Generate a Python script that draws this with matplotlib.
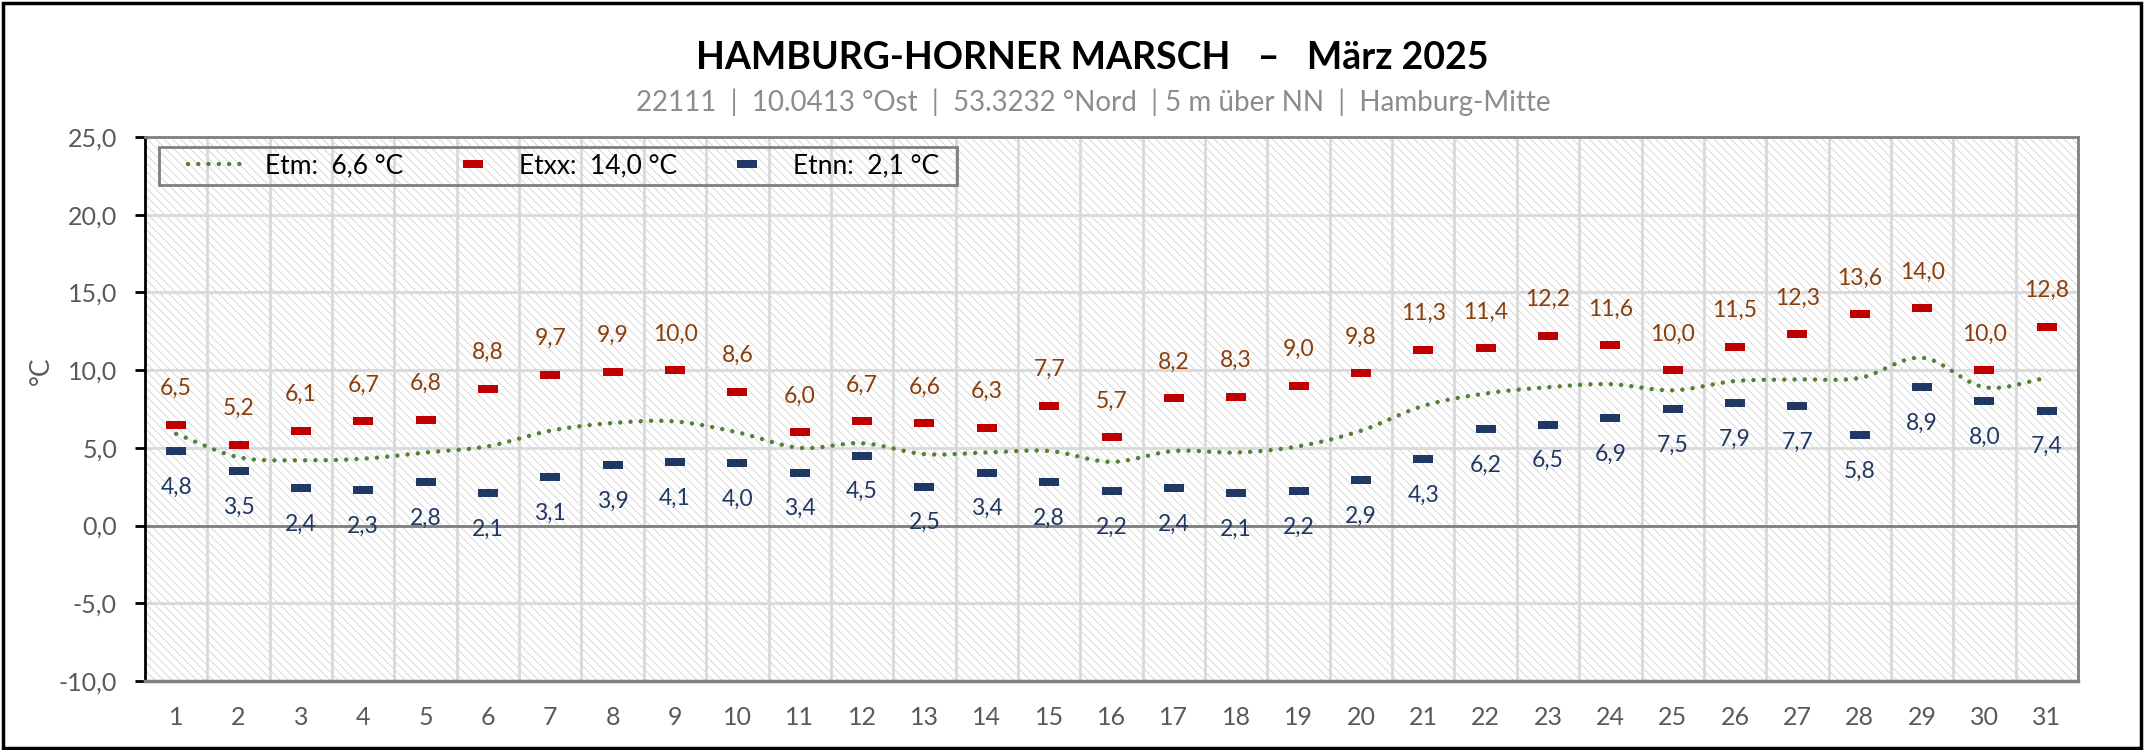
import numpy as np
import matplotlib.pyplot as plt
from matplotlib.lines import Line2D
from matplotlib.patches import Rectangle
from matplotlib.path import Path

plt.rcParams['font.family'] = ['Lato', 'DejaVu Sans']
plt.rcParams['hatch.linewidth'] = 0.6

days = list(range(1, 32))
etm = [5.9, 4.4, 4.2, 4.3, 4.7, 5.1, 6.1, 6.6, 6.7, 6.0, 5.0, 5.3, 4.6, 4.7, 4.8, 4.1,
       4.8, 4.7, 5.1, 6.1, 7.7, 8.5, 8.9, 9.1, 8.7, 9.3, 9.4, 9.5, 10.8, 8.9, 9.5]
etxx = [6.5, 5.2, 6.1, 6.7, 6.8, 8.8, 9.7, 9.9, 10.0, 8.6, 6.0, 6.7, 6.6, 6.3, 7.7, 5.7,
        8.2, 8.3, 9.0, 9.8, 11.3, 11.4, 12.2, 11.6, 10.0, 11.5, 12.3, 13.6, 14.0, 10.0, 12.8]
etnn = [4.8, 3.5, 2.4, 2.3, 2.8, 2.1, 3.1, 3.9, 4.1, 4.0, 3.4, 4.5, 2.5, 3.4, 2.8, 2.2,
        2.4, 2.1, 2.2, 2.9, 4.3, 6.2, 6.5, 6.9, 7.5, 7.9, 7.7, 5.8, 8.9, 8.0, 7.4]
yticks = [-10, -5, 0, 5, 10, 15, 20, 25]

title = "HAMBURG-HORNER MARSCH   \u2013   M\u00e4rz 2025"
subtitle = "22111  |  10.0413 \u00b0Ost  |  53.3232 \u00b0Nord  | 5 m \u00fcber NN  |  Hamburg-Mitte"

c_green = '#548235'
c_red = '#c00000'
c_navy = '#1f3864'
c_brown = '#8a3e0c'
c_tick = '#595959'

W, H = 2148, 750


def fmt(v):
    return f"{v:.1f}".replace('.', ',')


def smooth(x, y, n=20):
    # catmull-rom like excel "smoothed line"
    x = np.asarray(x, float)
    y = np.asarray(y, float)
    px = np.concatenate([[2 * x[0] - x[1]], x, [2 * x[-1] - x[-2]]])
    py = np.concatenate([[2 * y[0] - y[1]], y, [2 * y[-1] - y[-2]]])
    xs, ys = [], []
    t = np.linspace(0, 1, n, endpoint=False)
    for i in range(1, len(px) - 2):
        p0, p1, p2, p3 = py[i - 1], py[i], py[i + 1], py[i + 2]
        q0, q1, q2, q3 = px[i - 1], px[i], px[i + 1], px[i + 2]
        ys.append(0.5 * (2 * p1 + (-p0 + p2) * t + (2 * p0 - 5 * p1 + 4 * p2 - p3) * t ** 2
                         + (-p0 + 3 * p1 - 3 * p2 + p3) * t ** 3))
        xs.append(0.5 * (2 * q1 + (-q0 + q2) * t + (2 * q0 - 5 * q1 + 4 * q2 - q3) * t ** 2
                         + (-q0 + 3 * q1 - 3 * q2 + q3) * t ** 3))
    xs.append([x[-1]])
    ys.append([y[-1]])
    return np.concatenate(xs), np.concatenate(ys)


dash = Path([(-1, -0.4), (1, -0.4), (1, 0.4), (-1, 0.4), (-1, -0.4)],
            [Path.MOVETO, Path.LINETO, Path.LINETO, Path.LINETO, Path.CLOSEPOLY])

fig = plt.figure(figsize=(W / 100, H / 100), dpi=100)
ax = fig.add_axes([145 / W, 1 - 681 / H, (2078 - 145) / W, (681 - 137) / H])

# hatched plot area
ax.add_patch(Rectangle((0, 0), 1, 1, transform=ax.transAxes, facecolor='white',
                       edgecolor='#d2d2d2', hatch='\\\\\\\\', linewidth=0, zorder=0))

ax.set_xlim(0.5, 31.5)
ax.set_ylim(-10, 25)
ax.set_yticks(yticks)
ax.set_yticklabels([fmt(v) for v in yticks], fontsize=18, color=c_tick)
ax.set_xticks(days)
ax.set_xticklabels([str(d) for d in days], fontsize=18, color=c_tick)
ax.tick_params(axis='x', length=0, pad=18)
ax.tick_params(axis='y', length=7.2, width=2, direction='out', color='black', pad=13)

for y in yticks[1:-1]:
    ax.axhline(y, color='#d9d9d9', lw=2, zorder=1)
for xb in np.arange(1.5, 31.5, 1):
    ax.axvline(xb, color='#d9d9d9', lw=2, zorder=1)
ax.axhline(0, color='#7f7f7f', lw=2, zorder=2)

for s in ['top', 'right']:
    ax.spines[s].set_color('#7f7f7f')
    ax.spines[s].set_linewidth(2)
ax.spines['left'].set_color('black')
ax.spines['left'].set_linewidth(2)
ax.spines['bottom'].set_color('#7f7f7f')
ax.spines['bottom'].set_linewidth(2.5)

ax.set_ylabel('\u00b0C', fontsize=19, color=c_tick)
ax.yaxis.set_label_coords((54 - 145) / (2078 - 145), 0.57)

sx, sy = smooth(days, etm)
ax.plot(sx, sy, color=c_green, lw=3.2, linestyle=(0, (0.01, 2.3)),
        dash_capstyle='round', zorder=4)
ax.plot(days, etxx, linestyle='none', marker=dash, markersize=14,
        color=c_red, markeredgewidth=0, zorder=5)
ax.plot(days, etnn, linestyle='none', marker=dash, markersize=14,
        color=c_navy, markeredgewidth=0, zorder=5)

for d, v in zip(days, etxx):
    ax.annotate(fmt(v), (d, v), xytext=(0, 26), textcoords='offset points',
                ha='center', va='center', fontsize=16.5, color=c_brown, zorder=6)
for d, v in zip(days, etnn):
    ax.annotate(fmt(v), (d, v), xytext=(0, -26), textcoords='offset points',
                ha='center', va='center', fontsize=16.5, color=c_navy, zorder=6)

handles = [
    Line2D([], [], color=c_green, lw=3.2, linestyle=(0, (0.01, 2.3)), dash_capstyle='round'),
    Line2D([], [], linestyle='none', marker=dash, markersize=14, color=c_red, markeredgewidth=0),
    Line2D([], [], linestyle='none', marker=dash, markersize=14, color=c_navy, markeredgewidth=0),
]
labels = ['Etm:  ' + fmt(np.mean(etm)) + ' \u00b0C',
          'Etxx:  ' + fmt(max(etxx)) + ' \u00b0C',
          'Etnn:  ' + fmt(min(etnn)) + ' \u00b0C']
leg = ax.legend(handles, labels, loc='center left', bbox_to_anchor=(188 / W, 1 - 166 / H),
                bbox_transform=fig.transFigure, ncol=3, fontsize=19, frameon=False,
                borderaxespad=0, borderpad=0, handlelength=2.3, columnspacing=1.5,
                handletextpad=0.6)
leg.set_zorder(7)
# legend frame
ax.add_patch(Rectangle((159 / W, 1 - 185 / H), (957 - 159) / W, 38 / H,
                       transform=fig.transFigure, fill=False, edgecolor='#7f7f7f',
                       lw=2, zorder=7))

fig.text(1092 / W, 1 - 69 / H, title, ha='center', va='baseline',
         fontsize=27, fontweight='bold', color='black')
fig.text(1093 / W, 1 - 110.5 / H, subtitle, ha='center', va='baseline',
         fontsize=20, color='#8c8c8c')

fig.add_artist(Rectangle((3 / W, 2 / H), 2138 / W, 745 / H,
                         transform=fig.transFigure, fill=False, edgecolor='black', lw=2.5))

fig.savefig('out.png', dpi=100)
